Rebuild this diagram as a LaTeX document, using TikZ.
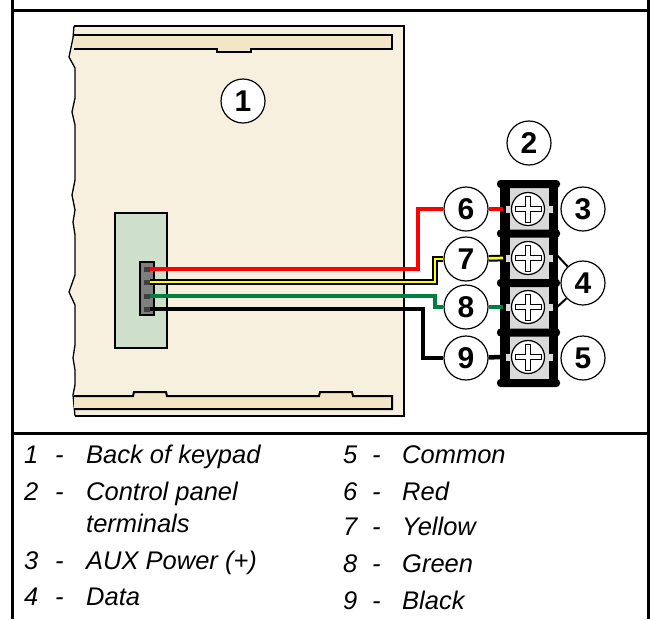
\documentclass[tikz,border=0pt]{standalone}
\usepackage{fontspec}
\setmainfont{Liberation Sans}
\definecolor{panelc}{HTML}{F8F0DF}
\definecolor{railc}{HTML}{F3E6C6}
\definecolor{boardc}{HTML}{CEDFCC}
\definecolor{cellc}{HTML}{D9D9D9}
\definecolor{connc}{HTML}{7F7F7F}
\definecolor{wgreen}{HTML}{008040}
\definecolor{wred}{HTML}{FF0000}
\definecolor{wyellow}{HTML}{FFFF00}
\begin{document}
\begin{tikzpicture}[x=1pt,y=-1pt,
  frameline/.style={line width=3pt},
  num/.style={circle,draw,line width=1.2pt,fill=white,minimum size=44pt,inner sep=0pt,
    font=\fontsize{30}{30}\selectfont\bfseries},
  screw/.style={circle,draw,line width=1.2pt,fill=white,minimum size=33pt,inner sep=0pt},
  wire/.style={line width=4.5pt,line join=miter},
  redw/.style={wire,draw=wred},
  greenw/.style={wire,draw=wgreen},
  blackw/.style={wire,draw=black},
  yelw/.style={line width=2pt,draw=black,double=wyellow,double distance=2.7pt,line join=miter},
  bar/.style={fill=black,rounded corners=3.5pt},
  leg/.style={anchor=base west,inner sep=0pt,font=\fontsize{25.5}{30}\selectfont\itshape},
  thinl/.style={line width=2pt}
]
\useasboundingbox (0,0) rectangle (650,619);

% frame
\draw[frameline] (12,0) -- (12,619);
\draw[frameline] (648,0) -- (648,619);
\draw[frameline] (12,10) -- (648,10);
\draw[frameline] (12,433) -- (648,433);

% keypad back panel
\fill[panelc] (74,26) -- (404,26) -- (404,416) -- (75,416) -- (73,395) -- (75,385) -- (75,370)
  -- (73,358) -- (75,345) -- (75,305) -- (69,292) -- (75,275) -- (75,235) -- (73,222)
  -- (75,210) -- (72,195) -- (75,180) -- (75,125) -- (72,112) -- (75,98) -- (75,68)
  -- (69,57) -- (73,38) -- cycle;
\draw[line width=2pt] (74,26) -- (404,26) -- (404,416) -- (75,416);
\draw[line width=1.3pt] (74,26) -- (73,38) -- (69,57) -- (75,68) -- (75,98) -- (72,112)
  -- (75,125) -- (75,180) -- (72,195) -- (75,210) -- (73,222) -- (75,235) -- (75,275)
  -- (69,292) -- (75,305) -- (75,345) -- (73,358) -- (75,370) -- (75,385) -- (73,395) -- (75,416);
% rails
\filldraw[fill=railc,line width=2pt] (74,35) -- (392,35) -- (392,49) -- (251,49) -- (251,52)
  -- (217,52) -- (217,49) -- (74,49);
\filldraw[fill=railc,line width=2pt] (74,396) -- (133,396) -- (134,392) -- (166,392) -- (167,396)
  -- (319,396) -- (320,392) -- (352,392) -- (353,396) -- (392,396) -- (392,409) -- (74,409);

% board and connector
\filldraw[fill=boardc,line width=1.3pt] (115,213) rectangle (167,348);
\filldraw[fill=connc,line width=1.5pt] (140,262) rectangle (154,315);
\foreach \yy in {269,282,296,309} {
  \fill[black!75] (144,\yy-2.5) rectangle (150,\yy+2.5);
}
\coordinate (p1) at (150,269);
\coordinate (p2) at (150,282);
\coordinate (p3) at (150,296);
\coordinate (p4) at (150,309);

% terminal block
\foreach \ya/\yb in {184/233.5,233.5/283,283/332.5,332.5/383} {
  \fill[cellc] (510,\ya) rectangle (549,\yb);
}
\fill[black] (500,184) rectangle (510,383);
\fill[black] (549,184) rectangle (558,383);
\foreach \yy in {184,233.5,283,332.5,383} {
  \fill[bar] (497,\yy-4) rectangle (560,\yy+4);
}
\foreach \yy in {209,258,307,357} {
  \fill[cellc] (506,\yy-3.5) rectangle (511,\yy+3.5);
  \fill[cellc] (548,\yy-3.5) rectangle (553,\yy+3.5);
}
\node[screw] (s1) at (528,209) {};
\node[screw] (s2) at (528,258) {};
\node[screw] (s3) at (528,307) {};
\node[screw] (s4) at (528,357) {};
\foreach \yy in {209,258,307,357} {
  \begin{scope}[shift={(528,\yy)}]
    \filldraw[fill=white,line width=0.9pt] (-2.5,-13) -- (2.5,-13) -- (2.5,-2.5) -- (13,-2.5)
      -- (13,2.5) -- (2.5,2.5) -- (2.5,13) -- (-2.5,13) -- (-2.5,2.5) -- (-13,2.5)
      -- (-13,-2.5) -- (-2.5,-2.5) -- cycle;
  \end{scope}
}
\coordinate (t1in) at (503,209);
\coordinate (t2in) at (503,258);
\coordinate (t3in) at (503,307);
\coordinate (t4in) at (503,357);
\coordinate (t2r) at (555,253);
\coordinate (t3r) at (555,309);

% number circles
\node[num] (c1) at (243,101) {1};
\node[num] (c2) at (529,143) {2};
\node[num] (c3) at (583,209) {3};
\node[num] (c4) at (583,283) {4};
\node[num] (c5) at (583,358) {5};
\node[num] (c6) at (466,209) {6};
\node[num] (c7) at (466,259) {7};
\node[num] (c8) at (466,307) {8};
\node[num] (c9) at (466,358) {9};

% wires
\draw[redw] (p1) -- (418,269) |- (c6);
\draw[redw] (c6) -- (t1in);
\draw[yelw] (p2) -- (435,282) |- (c7);
\draw[yelw] (c7) -- (t2in);
\draw[greenw] (p3) -- (435,296) |- (c8);
\draw[greenw] (c8) -- (t3in);
\draw[blackw] (p4) -- (423,309) |- (c9);
\draw[blackw] (c9) -- (t4in);
\draw[thinl] (c4) -- (t2r);
\draw[thinl] (c4) -- (t3r);

% legend
\node[leg] (n1) at (24,463) {1};  \node[leg] (d1) at (55,463) {-}; \node[leg] (l1) at (86,463) {Back of keypad};
\node[leg] (n2) at (24,500) {2};  \node[leg] (d2) at (55,500) {-}; \node[leg] (l2) at (86,500) {Control panel};
\node[leg] (l2b) at (86,532) {terminals};
\node[leg] (n3) at (24,569) {3};  \node[leg] (d3) at (55,569) {-}; \node[leg] (l3) at (86,569) {AUX Power (+)};
\node[leg] (n4) at (24,605) {4};  \node[leg] (d4) at (55,605) {-}; \node[leg] (l4) at (86,605) {Data};
\node[leg] (n5) at (343,463) {5}; \node[leg] (d5) at (372,463) {-}; \node[leg] (l5) at (402,463) {Common};
\node[leg] (n6) at (343,500) {6}; \node[leg] (d6) at (372,500) {-}; \node[leg] (l6) at (402,500) {Red};
\node[leg] (n7) at (343,535) {7}; \node[leg] (d7) at (372,535) {-}; \node[leg] (l7) at (402,535) {Yellow};
\node[leg] (n8) at (343,572) {8}; \node[leg] (d8) at (372,572) {-}; \node[leg] (l8) at (402,572) {Green};
\node[leg] (n9) at (343,609) {9}; \node[leg] (d9) at (372,609) {-}; \node[leg] (l9) at (402,609) {Black};
\end{tikzpicture}
\end{document}
